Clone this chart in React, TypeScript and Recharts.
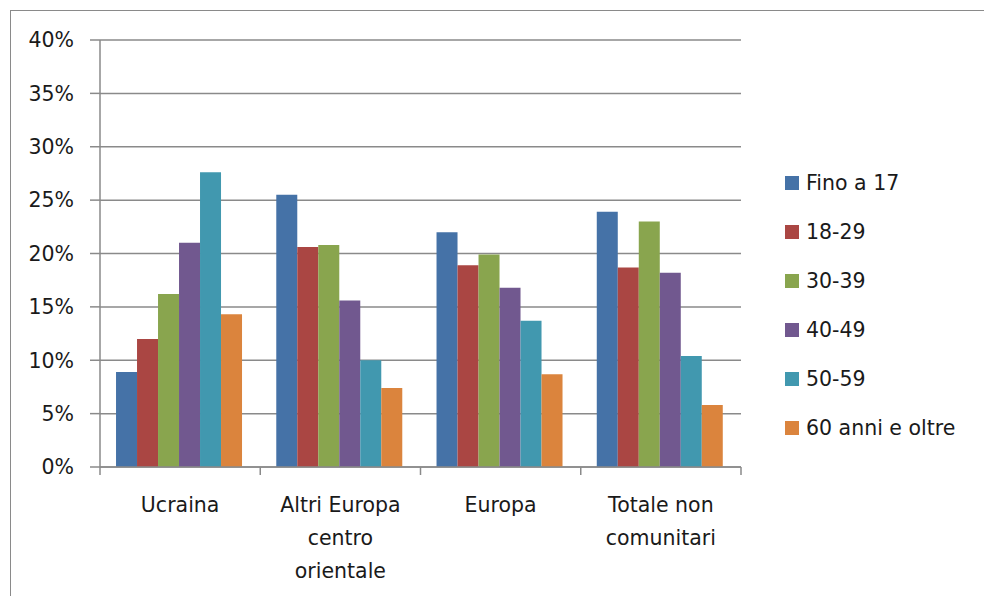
import { BarChart, Bar, XAxis, YAxis, CartesianGrid } from 'recharts';

const categories = [
  ['Ucraina'],
  ['Altri Europa', 'centro', 'orientale'],
  ['Europa'],
  ['Totale non', 'comunitari']
];

const seriesNames = ['Fino a 17', '18-29', '30-39', '40-49', '50-59', '60 anni e oltre'];

const fino17 = [8.9, 25.5, 22.0, 23.9];
const da18a29 = [12.0, 20.6, 18.9, 18.7];
const da30a39 = [16.2, 20.8, 19.9, 23.0];
const da40a49 = [21.0, 15.6, 16.8, 18.2];
const da50a59 = [27.6, 10.0, 13.7, 10.4];
const over60 = [14.3, 7.4, 8.7, 5.8];

const yTicks = [0, 5, 10, 15, 20, 25, 30, 35, 40];

const COLORS = ['#4572A7', '#AA4643', '#89A54E', '#71588F', '#4198AF', '#DB843D'];

const allSeries = [fino17, da18a29, da30a39, da40a49, da50a59, over60];

const chartData = categories.map((cat, i) => {
  const row: Record<string, any> = { name: cat.join(' ') };
  allSeries.forEach((s, j) => {
    row['s' + j] = s[i];
  });
  return row;
});

const FONT = '"DejaVu Sans", Verdana, sans-serif';
const FONT_SIZE = 20.5;
const GRID = '#8a8a8a';

const CategoryTick = ({ x, y, payload, index }: any) => {
  const band = (741 - 100) / categories.length;
  const lines = categories[index] || [payload.value];
  return (
    <g>
      <line x1={x - band / 2} x2={x - band / 2} y1={y - 8} y2={y} stroke={GRID} strokeWidth={1.5} />
      {index === categories.length - 1 && (
        <line x1={x + band / 2} x2={x + band / 2} y1={y - 8} y2={y} stroke={GRID} strokeWidth={1.5} />
      )}
      <text x={x} y={y + 37} textAnchor="middle" fill="#1a1a1a" fontSize={FONT_SIZE} fontFamily={FONT}>
        {lines.map((l: string, i: number) => (
          <tspan key={i} x={x} dy={i === 0 ? 0 : 33}>
            {l}
          </tspan>
        ))}
      </text>
    </g>
  );
};

export default function App() {
  return (
    <div style={{ position: 'absolute', left: 0, top: 0, width: 984, height: 596, background: '#fff', overflow: 'hidden' }}>
      <div
        style={{
          position: 'absolute',
          left: 10,
          top: 10,
          width: 1000,
          height: 620,
          border: '1.5px solid #8a8a8a',
          boxSizing: 'border-box'
        }}
      />
      <div style={{ position: 'absolute', left: 0, top: 0 }}>
        <BarChart
          width={984}
          height={596}
          data={chartData}
          margin={{ top: 40, right: 243, left: 0, bottom: 0 }}
          barCategoryGap="10%"
          barGap={0}
        >
          <CartesianGrid vertical={false} stroke={GRID} strokeWidth={1.5} />
          <XAxis
            dataKey="name"
            axisLine={{ stroke: GRID, strokeWidth: 1.5 }}
            tickLine={false}
            tick={<CategoryTick />}
            interval={0}
            height={129}
          />
          <YAxis
            width={100}
            domain={[0, 40]}
            ticks={yTicks}
            interval={0}
            tickFormatter={(v) => `${v}%`}
            axisLine={{ stroke: GRID, strokeWidth: 1.5 }}
            tickLine={{ stroke: GRID, strokeWidth: 1.5 }}
            tickSize={10}
            tickMargin={16}
            tick={{ fill: '#1a1a1a', fontSize: FONT_SIZE, fontFamily: FONT }}
          />
          {seriesNames.map((n, i) => (
            <Bar key={n} dataKey={'s' + i} name={n} fill={COLORS[i]} isAnimationActive={false} />
          ))}
        </BarChart>
      </div>
      <div style={{ position: 'absolute', left: 785, top: 158, fontFamily: FONT, fontSize: FONT_SIZE, color: '#1a1a1a' }}>
        {seriesNames.map((n, i) => (
          <div key={n} style={{ display: 'flex', alignItems: 'center', height: 49 }}>
            <div style={{ width: 14, height: 14, background: COLORS[i], marginRight: 7 }} />
            <span>{n}</span>
          </div>
        ))}
      </div>
    </div>
  );
}
